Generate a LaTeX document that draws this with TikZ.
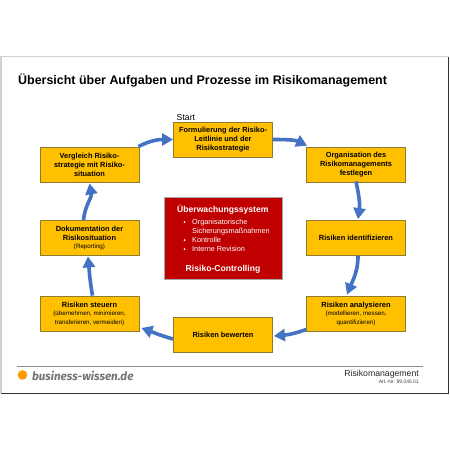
\documentclass[tikz,border=0pt]{standalone}
\usepackage{fontspec}
\setmainfont{Liberation Sans}
\newfontfamily\logofont{Fira Sans}
\usetikzlibrary{arrows.meta}
\definecolor{boxgold}{HTML}{FFC000}
\definecolor{boxedge}{HTML}{8F7A2E}
\definecolor{alarmred}{HTML}{C00000}
\definecolor{flowblue}{HTML}{4472C4}
\definecolor{logoorange}{HTML}{FF9A00}
\newcommand{\smalltextfont}{\fontsize{6.2}{8}\selectfont\mdseries}
\tikzset{
    processbox/.style={draw=boxedge, line width=0.8pt, fill=boxgold, minimum width=99pt, minimum height=35pt, inner sep=0pt, align=center, font=\fontsize{7.4}{9}\selectfont\bfseries, execute at begin node={\mbox{}\\[-5.5pt]}},
    flow/.style={draw=flowblue, line width=3.6pt, -{Triangle[length=11pt,width=12pt]}},
}
\begin{document}
\begin{tikzpicture}[x=1pt,y=1pt]
\useasboundingbox (0,0) rectangle (450,-450);
% page frame
\fill[white] (0,0) rectangle (450,-450);
\draw[black!18, line width=1.2pt] (1,-393) -- (1,-56.5) -- (448,-56.5);
\draw[black!80, line width=1pt] (448,-56.5) -- (448,-393) -- (1,-393);
\node[anchor=west, inner sep=0pt, font=\fontsize{12.45}{14}\selectfont\bfseries] (title) at (18,-80.5) {Übersicht über Aufgaben und Prozesse im Risikomanagement};
% process boxes
\node[processbox] (formulierung) at (223,-139.5) {Formulierung der Risiko-\\Leitlinie und der\\Risikostrategie};
\node[processbox] (organisation) at (356,-164.5) {Organisation des\\Risikomanagements\\festlegen};
\node[processbox] (identifizieren) at (356,-238) {Risiken identifizieren};
\node[processbox] (analysieren) at (356,-313.5) {Risiken analysieren\\[-1pt]\smalltextfont (modellieren, messen,\\\smalltextfont quantifizieren)};
\node[processbox] (bewerten) at (223,-334.5) {Risiken bewerten};
\node[processbox] (steuern) at (89.5,-313.5) {Risiken steuern\\[-1pt]\smalltextfont (übernehmen, minimieren,\\\smalltextfont transferieren, vermeiden)};
\node[processbox] (dokumentation) at (89.5,-238) {Dokumentation der\\Risikosituation\\[-1pt]\smalltextfont (Reporting)};
\node[processbox] (vergleich) at (89.5,-164.5) {Vergleich Risiko-\\strategie mit Risiko-\\situation};
\node[anchor=south west, inner sep=0pt, font=\fontsize{8.7}{9}\selectfont] (start) at (176.5,-120.5) {Start};
% cycle
\draw[flow] ([xshift=-1pt]vergleich.north east) to[out=28, in=180] (formulierung.west);
\draw[flow] (formulierung.east) to[out=0, in=155] ([xshift=1pt,yshift=1pt]organisation.north west);
\draw[flow] ([yshift=1pt]organisation.south) to[out=-78, in=82] ([xshift=2pt,yshift=1pt]identifizieren.north);
\draw[flow] ([xshift=2pt]identifizieren.south) to[out=-90, in=68] ([xshift=-9pt,yshift=1pt]analysieren.north);
\draw[flow] ([yshift=-16pt]analysieren.west) to[out=200, in=5] ([xshift=1pt,yshift=-1.5pt]bewerten.east);
\draw[flow] ([yshift=-4.5pt]bewerten.west) to[out=165, in=-20] ([xshift=2pt,yshift=-14.5pt]steuern.east);
\draw[flow] ([xshift=3pt]steuern.north) to[out=100, in=-85] ([xshift=-1.5pt,yshift=-.5pt]dokumentation.south);
\draw[flow] ([xshift=-6pt]dokumentation.north) to[out=85, in=-80] ([yshift=-1pt]vergleich.south);
% control box
\node[draw=black!35, line width=0.8pt, fill=alarmred, minimum width=118pt, minimum height=82pt, inner sep=0pt] (controlling) at (223,-238) {};
\node[anchor=west, inner sep=0pt, text=white, font=\fontsize{8.6}{9}\selectfont\bfseries] (ueberwachung) at (177,-209.5) {Überwachungssystem};
\node[anchor=north west, inner sep=0pt, text=white, align=left, font=\fontsize{7.3}{9}\selectfont] (massnahmen) at (192,-219.5) {Organisatorische\\Sicherungsmaßnahmen\\Kontrolle\\Interne Revision};
\foreach \y in {222,240,249} {
    \fill[white] (184.5,-\y) circle (1pt);
}
\node[inner sep=0pt, text=white, font=\fontsize{8.6}{9}\selectfont\bfseries] (risikocontrolling) at (223,-269.5) {Risiko-Controlling};
% footer
\coordinate (ruleleft) at (17,-366);
\coordinate (ruleright) at (423,-366);
\draw[black!45, line width=0.7pt] (ruleleft) -- (ruleright);
\fill[logoorange] (22.5,-375) circle (4.8);
\node[anchor=west, inner sep=0pt, text=black!55, font=\logofont\fontsize{11.6}{14}\selectfont\bfseries\itshape] (logo) at (32,-375.5) {business-wissen.de};
\node[anchor=east, inner sep=0pt, text=black!85, font=\fontsize{8.7}{10}\selectfont] (fach) at (419,-374) {Risikomanagement};
\node[anchor=east, inner sep=0pt, text=black!75, font=\fontsize{5}{5}\selectfont] (artnr) at (419,-382) {Art.-Nr. 99.045.01};
\end{tikzpicture}
\end{document}
